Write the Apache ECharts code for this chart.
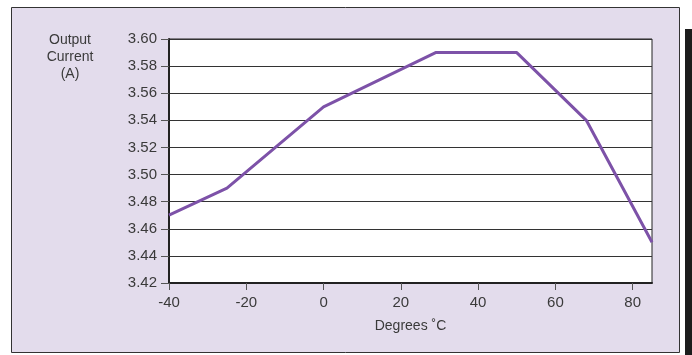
<!DOCTYPE html>
<html>
<head>
<meta charset="utf-8">
<script src="https://cdn.jsdelivr.net/npm/echarts@6/dist/echarts.min.js"></script>
<style>
  html, body { margin: 0; padding: 0; background: #fff; }
  #chart { width: 692px; height: 355px; }
</style>
</head>
<body>
<div id="chart"></div>
<script>
// temperature (deg C) vs output current (A)
const tempC = [-40, -25, 0, 29, 50, 68, 85]
const currentA = [3.47, 3.49, 3.55, 3.59, 3.59, 3.54, 3.45]
const xTicks = [-40, -20, 0, 20, 40, 60, 80]
const yTicks = [3.42, 3.44, 3.46, 3.48, 3.50, 3.52, 3.54, 3.56, 3.58, 3.60]

const font = 'Liberation Sans, Arial, Helvetica, sans-serif'
const textColor = '#3a3a3a'

const chart = echarts.init(document.getElementById('chart'))

chart.setOption({
  animation: false,
  textStyle: { fontFamily: font },
  graphic: [
    {
      type: 'rect',
      z: -10,
      shape: { x: 11.5, y: 7.5, width: 668, height: 345 },
      style: { fill: '#e3dcec', stroke: '#333', lineWidth: 1 }
    },
    {
      type: 'rect',
      z: -10,
      shape: { x: 685, y: 29, width: 7, height: 326 },
      style: { fill: '#1c1c1c' }
    },
    {
      type: 'text',
      x: 70,
      y: 32,
      style: {
        text: 'Output\nCurrent\n(A)',
        textAlign: 'center',
        fill: textColor,
        font: '14px ' + font,
        lineHeight: 17
      }
    }
  ],
  grid: {
    left: 169,
    top: 39,
    right: 40,
    bottom: 72,
    show: true,
    backgroundColor: '#fff',
    borderColor: '#222',
    borderWidth: 1
  },
  xAxis: {
    type: 'value',
    min: -40,
    max: 85,
    name: 'Degrees ˚C',
    nameLocation: 'middle',
    nameGap: 36,
    nameTextStyle: { color: textColor, fontSize: 14, fontFamily: font },
    axisLine: { onZero: false, lineStyle: { color: '#222', width: 2 } },
    axisTick: { show: true, length: 7, customValues: xTicks, lineStyle: { color: '#555' } },
    axisLabel: {
      customValues: xTicks,
      margin: 12,
      color: textColor,
      fontSize: 15,
      fontFamily: font
    },
    splitLine: { show: false }
  },
  yAxis: {
    type: 'value',
    min: 3.42,
    max: 3.60,
    interval: 0.02,
    axisLine: { show: true, onZero: false, lineStyle: { color: '#222', width: 2 } },
    axisTick: { show: true, length: 8, lineStyle: { color: '#555' } },
    axisLabel: {
      margin: 12,
      color: textColor,
      fontSize: 15,
      fontFamily: font,
      formatter: v => v.toFixed(2)
    },
    splitLine: { show: true, lineStyle: { color: '#333', width: 1 } }
  },
  series: [
    {
      type: 'line',
      data: tempC.map((t, i) => [t, currentA[i]]),
      symbol: 'none',
      smooth: false,
      lineStyle: { color: '#7d52a8', width: 3 }
    }
  ]
})
</script>
</body>
</html>
